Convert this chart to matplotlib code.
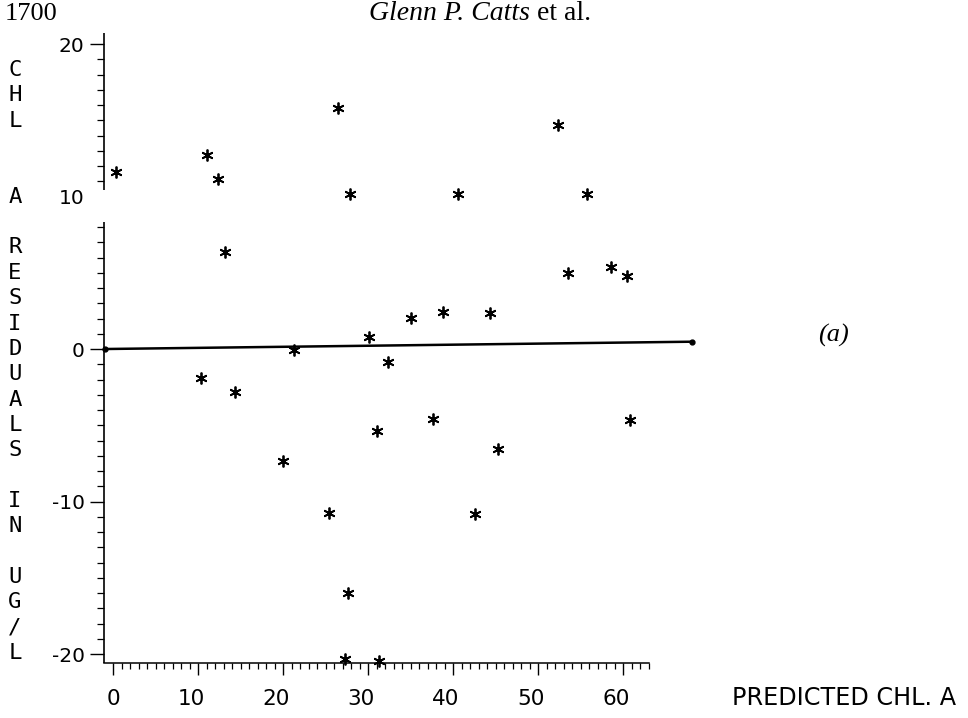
import matplotlib
matplotlib.use("Agg")
import matplotlib.pyplot as plt
import matplotlib.transforms as mtransforms
import numpy as np

# ---- data ----
pred_chl = [0.35, 11.06, 12.35, 26.5, 27.9, 40.6, 52.4, 55.8, 13.2, 53.5,
            58.6, 60.5, 35.0, 38.8, 44.4, 30.1, 21.3, 10.4, 14.35, 32.4,
            20.0, 31.1, 37.7, 45.3, 60.8, 25.45, 42.6, 27.7, 27.3, 31.3]
residuals = [11.6, 12.72, 11.15, 15.8, 10.16, 10.14, 14.69, 10.14, 6.36, 5.0,
             5.4, 4.79, 2.06, 2.4, 2.34, 0.79, -0.07, -1.88, -2.84, -0.87,
             -7.32, -5.38, -4.6, -6.58, -4.66, -10.78, -10.82, -15.98, -20.35, -20.44]
fit_x = [-1.0, 68.1]
fit_y = [0.0, 0.48]

x_ticks = [0, 10, 20, 30, 40, 50, 60]
x_tick_labels = ["0", "10", "20", "30", "40", "50", "60"]
y_ticks = [-20, -10, 0, 10, 20]
y_tick_labels = ["-20", "-10", "0", "10", "20"]
y_label_chars = list("CHL  A RESIDUALS IN UG/L")
x_label = "PREDICTED CHL. A"
page_number = "1700"
header_authors = "Glenn P. Catts"
header_suffix = " et al."
panel_label = "(a)"

W, H = 968, 718
fig = plt.figure(figsize=(W / 100, H / 100), dpi=100)
fig.patch.set_facecolor("white")

x0, x1 = -1.06, 70.0
y0, y1 = -20.6, 21.0
ax = fig.add_axes([104 / W, 54.8 / H, 604 / W, 634.45 / H])
ax.set_xlim(x0, x1)
ax.set_ylim(y0, y1)
ax.set_facecolor("white")

for s in ["top", "right", "left"]:
    ax.spines[s].set_visible(False)
ax.spines["bottom"].set_bounds(x0, 63.1)
ax.spines["bottom"].set_linewidth(1.1)

# y axis drawn in two pieces (gap near 10 as in the scan)
ax.vlines([x0, x0], [y0, 10.4], [8.3, 20.7], color="black", lw=1.2, clip_on=False)

tick_font = dict(family=["DejaVu Sans"])
ax.set_xticks(x_ticks)
ax.set_xticklabels(x_tick_labels, fontsize=15.5, **tick_font)
ax.set_xticks(np.arange(0, 64, 1), minor=True)
ax.set_yticks(y_ticks)
ax.set_yticklabels(y_tick_labels, fontsize=14.5, **tick_font)
ax.set_yticks([v for v in range(-20, 21) if v not in (9, 10)], minor=True)

ax.tick_params(axis="x", which="major", direction="out", length=8.6, width=1.0, pad=10)
ax.tick_params(axis="x", which="minor", direction="out", length=4.3, width=0.9)
ax.tick_params(axis="y", which="major", direction="out", length=10, width=1.0, pad=4)
ax.tick_params(axis="y", which="minor", direction="out", length=5, width=0.9)
ax.yaxis.get_major_ticks()[3].tick1line.set_visible(False)

shift = mtransforms.ScaledTranslation(-7 / 100, 0, fig.dpi_scale_trans)
for lab in ax.get_xticklabels()[1:]:
    lab.set_transform(lab.get_transform() + shift)

# fitted line
ax.plot(fit_x, fit_y, color="black", lw=1.8, clip_on=False,
        marker="o", ms=3.5, zorder=2)

# residual points as asterisks
ax.plot(pred_chl, residuals, linestyle="none", marker=(6, 2, 0), ms=8.5,
        mew=1.3, color="black", clip_on=False, zorder=3)

# vertical letter y-label
for i, ch in enumerate(y_label_chars):
    if ch.strip():
        fig.text(15 / W, 1 - (70 + 25.35 * i) / H, ch, ha="center", va="center",
                 fontsize=16, family=["DejaVu Sans Mono"])

# x label
fig.text(732 / W, 1 - 698 / H, x_label, ha="left", va="center",
         fontsize=17.2, family=["DejaVu Sans"])

# page header
fig.text(5 / W, 1 - 14 / H, page_number, ha="left", va="center",
         fontsize=19, family=["Liberation Serif"])
t1 = fig.text(369 / W, 1 - 14 / H, header_authors, ha="left", va="center",
              fontsize=20, family=["Liberation Serif"], style="italic")
ax.annotate(header_suffix, xy=(1, 0), xycoords=t1, ha="left", va="bottom",
            fontsize=20, family=["Liberation Serif"], annotation_clip=False)

fig.text(833 / W, 1 - 335 / H, panel_label, ha="center", va="center",
         fontsize=19, family=["Liberation Serif"], style="italic")

fig.savefig("out.png", dpi=100, facecolor="white")
